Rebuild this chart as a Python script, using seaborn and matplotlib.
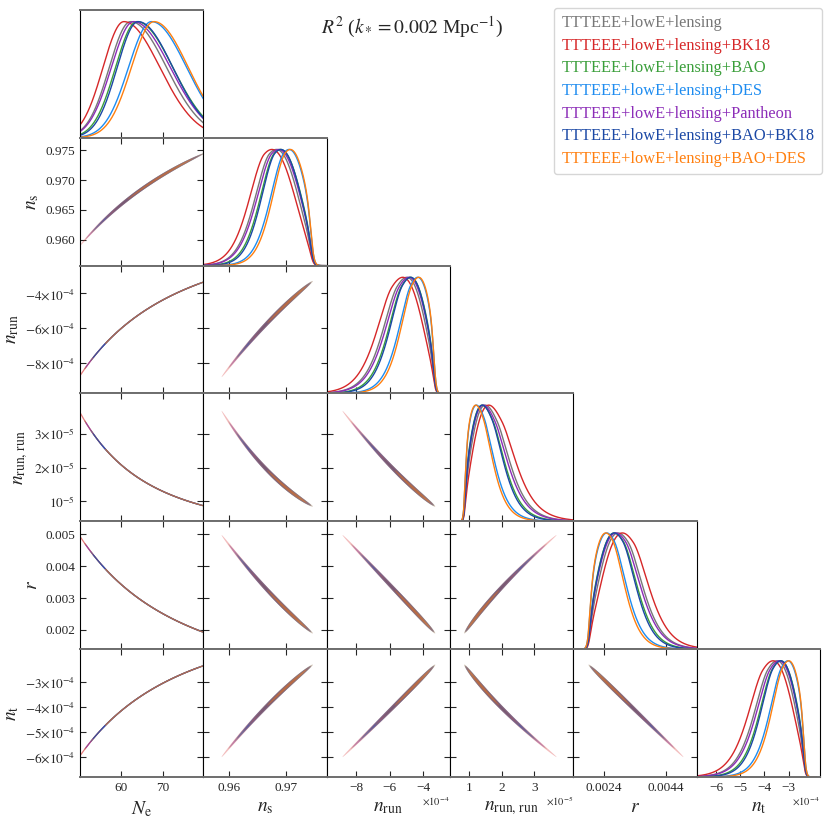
import numpy as np
import matplotlib
matplotlib.use('Agg')
import matplotlib.pyplot as plt
import seaborn as sns
from matplotlib.lines import Line2D

series_labels = ['TTTEEE+lowE+lensing', 'TTTEEE+lowE+lensing+BK18', 'TTTEEE+lowE+lensing+BAO',
                 'TTTEEE+lowE+lensing+DES', 'TTTEEE+lowE+lensing+Pantheon',
                 'TTTEEE+lowE+lensing+BAO+BK18', 'TTTEEE+lowE+lensing+BAO+DES']
series_colors = ['#777777', '#d62728', '#3a9e3a', '#1e8cf0', '#8c2db8', '#1b48a5', '#ff7f0e']

# N_e posterior of each data set (peak, lower / upper width)
ne_peak = [62.3, 60.7, 63.8, 67.3, 63.0, 64.1, 67.9]
ne_sigma_lo = [5.1, 5.0, 5.1, 5.5, 5.3, 5.0, 5.4]
ne_sigma_hi = [8.6, 8.6, 8.6, 8.4, 8.8, 8.3, 8.2]
# upper edge of N_e where the derived parameters drop off
ne_edge = 79.8
ne_edge_width = 0.9

# derived parameters against N_e
ne_knots = [44, 48, 52, 56, 60, 64, 68, 72, 76, 80, 84, 88]
ns_knots = [0.95300, 0.95703, 0.96043, 0.96333, 0.96583, 0.96802, 0.96994, 0.97164,
            0.97317, 0.97453, 0.97577, 0.97689]
nrun_knots = [-11.505e-4, -9.585e-4, -8.108e-4, -6.947e-4, -6.019e-4, -5.264e-4, -4.643e-4,
              -4.126e-4, -3.690e-4, -3.320e-4, -3.003e-4, -2.729e-4]
nrr_knots = [5.496e-5, 4.182e-5, 3.255e-5, 2.583e-5, 2.083e-5, 1.705e-5, 1.412e-5,
             1.183e-5, 1.001e-5, 0.854e-5, 0.735e-5, 0.637e-5]
r_knots = [0.006445, 0.005398, 0.004587, 0.003946, 0.003431, 0.003010, 0.002662,
           0.002371, 0.002125, 0.001916, 0.001736, 0.001580]
nt_knots = [-7.75e-4, -6.51e-4, -5.55e-4, -4.78e-4, -4.17e-4, -3.66e-4, -3.24e-4,
            -2.89e-4, -2.60e-4, -2.34e-4, -2.13e-4, -1.94e-4]

param_labels = [r'$N_{\rm e}$', r'$n_{\rm s}$', r'$n_{\rm run}$', r'$n_{\rm run,\,run}$', r'$r$', r'$n_{\rm t}$']
param_limits = [(50.2, 79.7), (0.9556, 0.9771), (-9.75e-4, -2.4e-4), (0.4e-5, 4.2e-5),
                (0.0014, 0.0054), (-6.8e-4, -1.7e-4)]
x_ticks = [[60, 70], [0.96, 0.97], [-8e-4, -6e-4, -4e-4], [1e-5, 2e-5, 3e-5],
           [0.0024, 0.0044], [-6e-4, -5e-4, -4e-4, -3e-4]]
x_ticklabels = [['60', '70'], ['0.96', '0.97'], ['\u22128', '\u22126', '\u22124'], ['1', '2', '3'],
                ['0.0024', '0.0044'], ['\u22126', '\u22125', '\u22124', '\u22123']]
x_offsets = ['', '', r'$\times10^{-4}$', r'$\times10^{-5}$', '', r'$\times10^{-4}$']
y_ticks = [[], [0.960, 0.965, 0.970, 0.975], [-8e-4, -6e-4, -4e-4], [1e-5, 2e-5, 3e-5],
           [0.002, 0.003, 0.004, 0.005], [-6e-4, -5e-4, -4e-4, -3e-4]]
y_ticklabels = [[], ['0.960', '0.965', '0.970', '0.975'],
                [r'$-8{\times}10^{-4}$', r'$-6{\times}10^{-4}$', r'$-4{\times}10^{-4}$'],
                [r'$10^{-5}$', r'$2{\times}10^{-5}$', r'$3{\times}10^{-5}$'],
                ['0.002', '0.003', '0.004', '0.005'],
                [r'$-6{\times}10^{-4}$', r'$-5{\times}10^{-4}$', r'$-4{\times}10^{-4}$', r'$-3{\times}10^{-4}$']]

sns.set_style('ticks')
plt.rcParams['font.family'] = ['Liberation Serif', 'DejaVu Serif']
plt.rcParams['mathtext.fontset'] = 'stix'
plt.rcParams['axes.linewidth'] = 0.8
plt.rcParams['axes.edgecolor'] = 'black'

# smooth relations through the tabulated points (fit in 60/N)
u_knots = 60.0 / np.array(ne_knots)
fits = [None] + [np.polyfit(u_knots, v, 4) for v in [ns_knots, nrun_knots, nrr_knots, r_knots, nt_knots]]


def param_values(k, n):
    if k == 0:
        return n
    return np.polyval(fits[k], 60.0 / n)


ne_grid = np.linspace(44, 90, 2000)


def ne_density(s):
    pk = ne_peak[s]
    sig = np.where(ne_grid < pk, ne_sigma_lo[s], ne_sigma_hi[s])
    return np.exp(-0.5 * ((ne_grid - pk) / sig) ** 2)


edge = 1.0 / (1.0 + np.exp((ne_grid - ne_edge) / ne_edge_width))

n_par = len(param_labels)
fig, axes = plt.subplots(n_par, n_par, figsize=(8.3, 8.3), dpi=100)
fig.subplots_adjust(left=80 / 830, right=820 / 830, bottom=53 / 830, top=820 / 830, wspace=0, hspace=0)


def band(ax, x, y, half_px, color, alpha):
    # thin filled contour along the curve, widths given in pixels
    bb = ax.get_window_extent()
    (x0, x1), (y0, y1) = ax.get_xlim(), ax.get_ylim()
    sx = bb.width / (x1 - x0)
    sy = bb.height / (y1 - y0)
    X, Y = x * sx, y * sy
    tx, ty = np.gradient(X), np.gradient(Y)
    norm = np.hypot(tx, ty)
    nx, ny = -ty / norm, tx / norm
    t = np.linspace(-1, 1, len(x))
    w = half_px * np.sqrt(np.clip(1 - t ** 2, 0, None))
    px = np.concatenate([X + w * nx, (X - w * nx)[::-1]]) / sx
    py = np.concatenate([Y + w * ny, (Y - w * ny)[::-1]]) / sy
    ax.fill(px, py, color=color, alpha=alpha, lw=0)


def style_spines(ax):
    for side in ['top', 'bottom']:
        ax.spines[side].set_color('#6e6e6e')
        ax.spines[side].set_linewidth(1.4)


for i in range(n_par):
    for j in range(n_par):
        ax = axes[i, j]
        if j > i:
            ax.axis('off')
            continue
        style_spines(ax)
        ax.set_xlim(param_limits[j])
        ax.set_xticks(x_ticks[j])
        if i == n_par - 1:
            ax.set_xticklabels(x_ticklabels[j])
            ax.set_xlabel(param_labels[j], fontsize=14, labelpad=4)
            if x_offsets[j]:
                ax.text(1.0, -0.19, x_offsets[j], transform=ax.transAxes, ha='right', va='center', fontsize=7.5)
        else:
            ax.set_xticklabels([])
        if i == j:
            ax.set_ylim(0, 1.1)
            ax.set_yticks([])
            ax.tick_params(axis='x', direction='in', length=4, width=0.8, labelsize=9.5, top=False)
            for s in range(len(series_labels)):
                p = ne_density(s)
                if j == 0:
                    x, q = ne_grid, p
                else:
                    x = param_values(j, ne_grid)
                    q = p * edge / np.abs(np.gradient(x, ne_grid))
                q = q / q.max()
                sns.lineplot(x=x, y=q, ax=ax, color=series_colors[s], lw=1.0, sort=False, estimator=None)
            ax.set_ylabel('')
            continue
        ax.set_ylim(param_limits[i])
        ax.set_yticks(y_ticks[i])
        if j == 0:
            ax.set_yticklabels(y_ticklabels[i])
            ax.set_ylabel(param_labels[i], fontsize=14, labelpad=3)
        else:
            ax.set_yticklabels([])
        ax.tick_params(direction='in', length=4, width=0.8, labelsize=9.5, top=True, right=True)
        for s in range(len(series_labels)):
            pc = ne_density(s) * edge
            xs = param_values(j, ne_grid)
            ys = param_values(i, ne_grid)
            m95 = pc >= 0.1 * pc.max()
            m68 = pc >= 0.5 * pc.max()
            if j == 0 and i > 1:
                ax.plot(xs[m95], ys[m95], color=series_colors[s], lw=0.9, alpha=0.6)
                continue
            w = 1.6 if j == 0 else 2.0
            band(ax, xs[m95], ys[m95], w, series_colors[s], 0.3)
            band(ax, xs[m68], ys[m68], 0.55 * w, series_colors[s], 0.5)

handles = [Line2D([], [], color=c) for c in series_colors]
fig.legend(handles, series_labels, loc='upper right', bbox_to_anchor=(822 / 830, 822 / 830), fontsize=11.8,
           handlelength=0, handletextpad=0, labelcolor='linecolor', labelspacing=0.4,
           borderpad=0.45, borderaxespad=0, frameon=True, fancybox=True, edgecolor='#cccccc')
fig.text(0.497, 0.967, r'$R^2$ ($k_* = 0.002$ Mpc$^{-1}$)', ha='center', va='center', fontsize=14)

fig.savefig('out.png', dpi=100)
